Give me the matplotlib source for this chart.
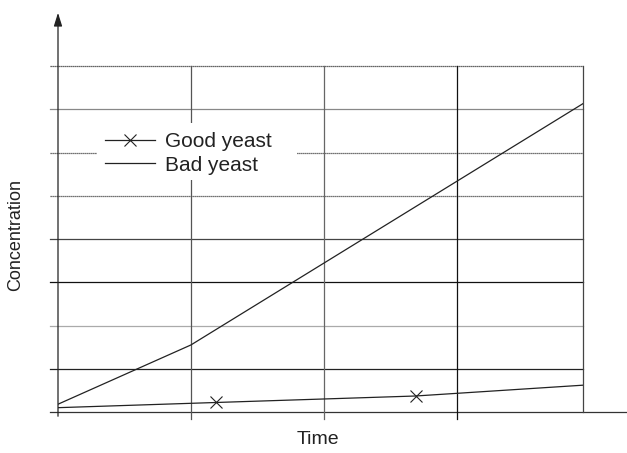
import numpy as np
import matplotlib
matplotlib.use("Agg")
from matplotlib import pyplot as plt
from matplotlib.patches import Rectangle

plt.rcParams['font.family'] = ['Liberation Sans', 'DejaVu Sans']

# concentration curves, time in grid units
bad_time = [0.0, 1.0, 3.95]
bad_conc = [0.18, 1.55, 7.13]

good_time = [0.0, 1.19, 2.69, 3.95]
good_conc = [0.10, 0.22, 0.37, 0.62]
good_marks = [1, 2]

x_max, y_max = 3.95, 8

# grid rows: (level, colour, dashes)
rows = [(0, "#333333", "-"), (1, "#222222", "-"), (2, "#aaaaaa", "-"),
        (3, "#111111", "-"), (4, "#444444", "-"), (5, "#444444", (0, (1, 0.6))),
        (6, "#444444", (0, (1, 0.6))), (7, "#888888", "-"), (8, "#333333", (0, (1, 0.6)))]
cols = [(1, "#555555"), (2, "#666666"), (3, "#111111"), (x_max, "#444444")]

fig = plt.figure(figsize=(6.27, 4.53), dpi=100)
ax = fig.add_axes([58 / 627, 41 / 453, 525 / 627, 346 / 453])
ax.set_xlim(0, x_max)
ax.set_ylim(0, y_max)
ax.axis("off")

px = x_max / 525   # one pixel in x units
py = y_max / 346   # one pixel in y units

for lvl, c, ls in rows:
    right = 569 * px if lvl == 0 else x_max
    ax.plot([-8 * px, right], [lvl, lvl], color=c, lw=0.9, ls=ls, clip_on=False, zorder=1)

for xv, c in cols:
    bottom = 0 if xv == x_max else -7 * py
    ax.plot([xv, xv], [bottom, y_max], color=c, lw=0.9, clip_on=False, zorder=1)

# vertical axis with arrow head
ax.annotate("", xy=(0, 402 * py), xytext=(0, -7 * py),
            arrowprops=dict(arrowstyle="-|>,head_width=0.25,head_length=0.8",
                            color="#222222", lw=0.9, mutation_scale=10),
            annotation_clip=False)

ax.plot(good_time, good_conc, color="#222222", lw=0.9, marker="x",
        markevery=good_marks, markersize=9, markeredgewidth=0.8,
        label="Good yeast", zorder=3)
ax.plot(bad_time, bad_conc, color="#222222", lw=0.9, label="Bad yeast", zorder=3)

# white patch behind the legend, wider than the legend itself
ax.add_patch(Rectangle((97 / 627, 1 - 180 / 453), 200 / 627, 57 / 453,
                       transform=fig.transFigure, facecolor="white",
                       edgecolor="none", zorder=4, clip_on=False))

leg = ax.legend(loc="upper left", bbox_to_anchor=(97 / 627, 1 - 124 / 453),
                bbox_transform=fig.transFigure, fontsize=15, frameon=False,
                handlelength=2.4, handletextpad=0.45, labelspacing=0.2,
                borderpad=0.4, borderaxespad=0)
leg.set_zorder(5)
for t in leg.get_texts():
    t.set_color("#222222")

fig.text(318 / 627, 1 - 440 / 453, "Time", fontsize=14, color="#222222",
         ha="center", va="center")
fig.text(16 / 627, 1 - 235 / 453, "Concentration", fontsize=13, color="#222222",
         ha="center", va="center", rotation=90)

fig.savefig("out.png", dpi=100)
